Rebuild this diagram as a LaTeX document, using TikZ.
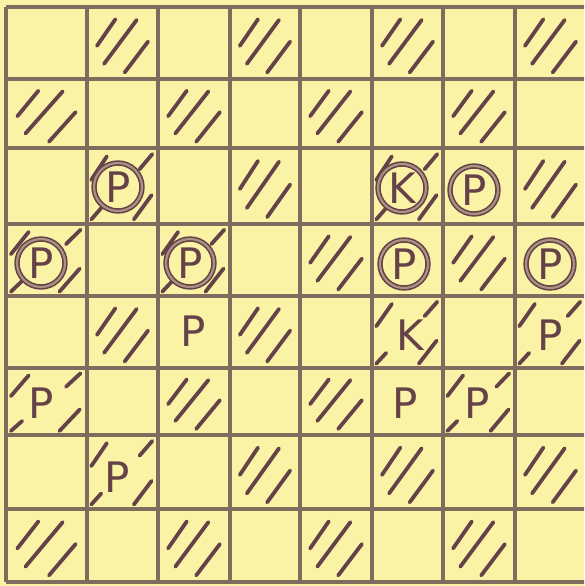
\documentclass[tikz,border=0pt]{standalone}
\usepackage{fontspec}
\newfontfamily\piecefont{DejaVu Sans}
\definecolor{paper}{RGB}{250,242,165}
\definecolor{gridc}{RGB}{128,108,95}
\definecolor{ink}{RGB}{100,66,72}
\definecolor{ringmid}{RGB}{170,146,130}
\newcommand\cellxy[2]{%
  \pgfmathsetmacro\xa{{6,87,158,230,300,372,443,515,586}[#1]}%
  \pgfmathsetmacro\xb{{6,87,158,230,300,372,443,515,586}[#1+1]}%
  \pgfmathsetmacro\ya{{7,79,148,224,296,368,435,509,582}[#2]}%
  \pgfmathsetmacro\yb{{7,79,148,224,296,368,435,509,582}[#2+1]}%
  \pgfmathsetmacro\cw{\xb-\xa}%
  \pgfmathsetmacro\ch{\yb-\ya}%
}
\newcommand\fullhatch[2]{%
  \cellxy{#1}{#2}%
  \begin{scope}[shift={(\xa,\ya)},x=\cw pt,y=-\ch pt]
    \draw[hatch] (0.14,0.54) -- (0.40,0.17);
    \draw[hatch] (0.24,0.79) -- (0.70,0.18);
    \draw[hatch] (0.53,0.91) -- (0.86,0.48);
  \end{scope}}
\newcommand\piecehatch[2]{%
  \cellxy{#1}{#2}%
  \begin{scope}[shift={(\xa,\ya)},x=\cw pt,y=-\ch pt]
    \draw[hatch] (0.06,0.42) -- (0.28,0.11);
    \draw[hatch] (0.74,0.28) -- (0.92,0.08);
    \draw[hatch] (0.06,0.94) -- (0.20,0.79);
    \draw[hatch] (0.66,0.94) -- (0.91,0.62);
  \end{scope}}
\begin{document}
\begin{tikzpicture}[x=1pt,y=-1pt,
  gridline/.style={draw=gridc,line width=3.6pt},
  hatch/.style={draw=ink,line width=3.8pt,line cap=round},
  ring/.style={draw=ink,fill=paper,line width=1.6pt,double=ringmid,double distance=2.2pt},
  piece/.style={inner sep=0pt,text=ink,font=\piecefont\fontsize{42}{42}\selectfont}]
\useasboundingbox (0,0) rectangle (584,586);
\fill[paper] (0,0) rectangle (584,586);
\clip (0,0) rectangle (584,586);
% grid
\foreach \x in {6,87,158,230,300,372,443,515}
  \draw[gridline] (\x,7) -- (\x,582);
\foreach \y in {7,79,148,224,296,368,435,509,582}
  \draw[gridline] (6,\y) -- (590,\y);
% hatched dark squares (column, row)
\foreach \c/\r in {1/0,3/0,5/0,7/0, 0/1,2/1,4/1,6/1, 3/2,7/2, 4/3,6/3,
                   1/4,3/4, 2/5,4/5, 3/6,5/6,7/6, 0/7,2/7,4/7,6/7}
  \fullhatch{\c}{\r};
% dark squares holding a piece
\foreach \c/\r in {1/2,5/2,0/3,2/3,5/4,7/4,0/5,6/5,1/6}
  \piecehatch{\c}{\r};
% rings of the circled pieces
\coordinate (c1) at (118,187);
\coordinate (c2) at (402,188);
\coordinate (c3) at (474,190);
\coordinate (c4) at (41,263);
\coordinate (c5) at (190,263);
\coordinate (c6) at (404,264);
\coordinate (c7) at (550,264);
\foreach \n in {c1,c2,c3,c4,c5,c6,c7}
  \draw[ring] (\n) circle[radius=24];
% circled pieces
\node[piece] (p1) at (c1) {P};
\node[piece] (k1) at (c2) {K};
\node[piece] (p2) at (c3) {P};
\node[piece] (p3) at (c4) {P};
\node[piece] (p4) at (c5) {P};
\node[piece] (p5) at (c6) {P};
\node[piece] (p6) at (c7) {P};
% plain pieces
\node[piece] (p7) at (193,331) {P};
\node[piece] (k2) at (410,335) {K};
\node[piece] (p8) at (550,335) {P};
\node[piece] (p9) at (41,403) {P};
\node[piece] (p10) at (405,403) {P};
\node[piece] (p11) at (477,403) {P};
\node[piece] (p12) at (117,477) {P};
\end{tikzpicture}
\end{document}
